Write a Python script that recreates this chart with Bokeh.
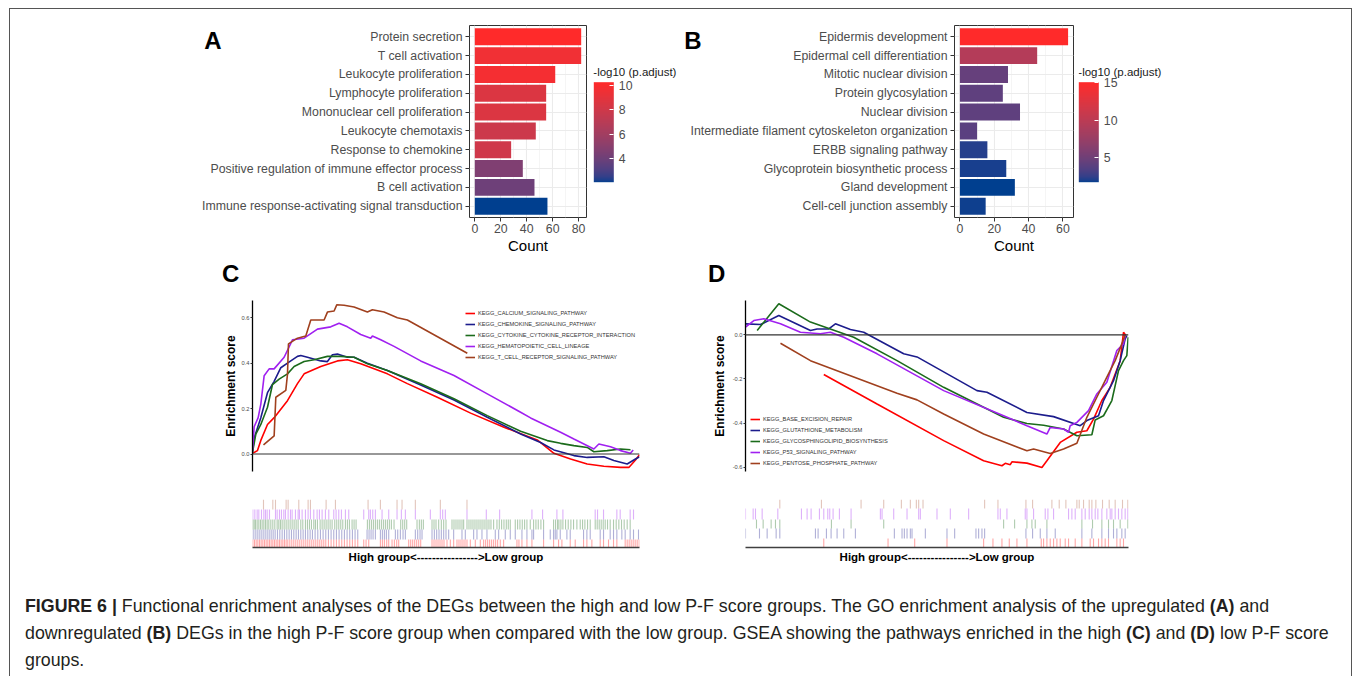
import numpy as np
from bokeh.plotting import figure
from bokeh.models import (Range1d, LinearColorMapper, Span, FixedTicker, Label,
                          PrintfTickFormatter, LinearAxis, Div, ColumnDataSource, ColorBar)
from bokeh.layouts import row, column
from bokeh.transform import transform
from bokeh.embed import file_html
from bokeh.resources import INLINE

FONT = "Liberation Sans"

# ---------------- data: panel A (GO, upregulated) ----------------
A_terms = ["Protein secretion", "T cell activation", "Leukocyte proliferation",
           "Lymphocyte proliferation", "Mononuclear cell proliferation", "Leukocyte chemotaxis",
           "Response to chemokine", "Positive regulation of immune effector process",
           "B cell activation", "Immune response-activating signal transduction"]
A_count = [82, 82, 62, 55, 55, 47, 28, 37, 46, 56]
A_mlog10 = [10.3, 9.6, 9.8, 8.6, 8.6, 7.9, 8.0, 4.6, 4.0, 2.0]
A_xticks = [0, 20, 40, 60, 80]
A_cbticks = [4, 6, 8, 10]

# ---------------- data: panel B (GO, downregulated) ----------------
B_terms = ["Epidermis development", "Epidermal cell differentiation", "Mitotic nuclear division",
           "Protein glycosylation", "Nuclear division",
           "Intermediate filament cytoskeleton organization", "ERBB signaling pathway",
           "Glycoprotein biosynthetic process", "Gland development", "Cell-cell junction assembly"]
B_count = [63, 45, 28, 25, 35, 10, 16, 27, 32, 15]
B_mlog10 = [15.1, 9.4, 4.4, 4.1, 4.1, 3.9, 2.1, 1.9, 1.65, 1.8]
B_xticks = [0, 20, 40, 60]
B_cbticks = [5, 10, 15]

# ---------------- data: panel C (GSEA, high group) ----------------
C_names = ["KEGG_CALCIUM_SIGNALING_PATHWAY", "KEGG_CHEMOKINE_SIGNALING_PATHWAY",
           "KEGG_CYTOKINE_CYTOKINE_RECEPTOR_INTERACTION", "KEGG_HEMATOPOIETIC_CELL_LINEAGE",
           "KEGG_T_CELL_RECEPTOR_SIGNALING_PATHWAY"]
C_nrank = 1162
C_yticks = [0.0, 0.2, 0.4, 0.6]
C_calcium_rank = [0, 15, 25, 45, 65, 105, 135, 155, 205, 255, 285, 325, 365, 405, 465, 555, 655, 755, 855, 905, 955, 1005, 1055, 1105, 1130, 1150, 1162]
C_calcium_es = [0.003, 0.015, 0.06, 0.13, 0.16, 0.235, 0.31, 0.353, 0.385, 0.41, 0.415, 0.397, 0.375, 0.353, 0.31, 0.25, 0.18, 0.118, 0.062, 0.003, -0.022, -0.044, -0.054, -0.059, -0.059, -0.026, -0.003]
C_chemokine_rank = [0, 5, 25, 45, 65, 85, 105, 135, 145, 165, 205, 225, 240, 255, 285, 305, 345, 405, 505, 605, 705, 805, 865, 905, 965, 1005, 1055, 1085, 1125, 1150, 1162]
C_chemokine_es = [0.007, 0.07, 0.16, 0.27, 0.32, 0.38, 0.40, 0.43, 0.434, 0.426, 0.41, 0.407, 0.437, 0.44, 0.426, 0.426, 0.40, 0.368, 0.304, 0.238, 0.162, 0.088, 0.051, 0.018, -0.007, -0.015, -0.012, -0.029, -0.044, -0.022, -0.012]
C_cytokine_rank = [0, 10, 25, 45, 60, 80, 105, 125, 155, 185, 225, 265, 305, 345, 405, 505, 605, 705, 805, 885, 925, 965, 1005, 1025, 1065, 1105, 1135]
C_cytokine_es = [0.007, 0.088, 0.13, 0.206, 0.306, 0.33, 0.353, 0.385, 0.407, 0.415, 0.43, 0.43, 0.426, 0.397, 0.368, 0.309, 0.243, 0.169, 0.1, 0.059, 0.047, 0.037, 0.029, 0.01, 0.015, 0.022, 0.019]
C_hemato_rank = [0, 5, 17, 25, 35, 50, 65, 95, 120, 155, 195, 235, 260, 285, 325, 355, 360, 385, 425, 505, 605, 705, 805, 835, 925, 965, 1025, 1040, 1075, 1105, 1135, 1143]
C_hemato_es = [0.015, 0.12, 0.16, 0.22, 0.345, 0.375, 0.375, 0.426, 0.503, 0.51, 0.55, 0.56, 0.576, 0.56, 0.526, 0.51, 0.52, 0.503, 0.474, 0.41, 0.346, 0.265, 0.184, 0.159, 0.096, 0.066, 0.022, 0.044, 0.032, 0.015, 0.003, 0.018]
C_tcell_rank = [33, 65, 70, 100, 105, 108, 135, 160, 175, 215, 225, 245, 253, 275, 305, 345, 360, 395, 435, 465, 645]
C_tcell_es = [0.04, 0.08, 0.25, 0.28, 0.35, 0.485, 0.51, 0.52, 0.59, 0.59, 0.625, 0.63, 0.657, 0.655, 0.647, 0.625, 0.635, 0.625, 0.6, 0.59, 0.444]

C_calcium_hits = [1, 6, 11, 16, 21, 26, 31, 36, 41, 46, 51, 56, 61, 66, 71, 76, 81, 86, 91, 96, 101, 106, 112, 118, 124, 130, 136, 142, 148, 154, 160, 166, 172, 178, 184, 190, 196, 202, 208, 214, 220, 228, 236, 244, 252, 260, 268, 276, 284, 292, 300, 308, 316, 334, 341, 349, 384, 390, 396, 403, 409, 419, 426, 433, 439, 469, 475, 481, 487, 493, 499, 505, 539, 545, 551, 557, 563, 569, 575, 584, 594, 604, 614, 620, 626, 632, 638, 644, 654, 669, 684, 694, 700, 706, 712, 718, 724, 730, 736, 744, 754, 794, 800, 809, 824, 839, 874, 904, 919, 929, 954, 969, 994, 1004, 1019, 1044, 1054, 1069, 1084, 1094, 1119, 1125, 1131, 1137, 1143, 1149, 1155, 1161]
C_chemokine_hits = [2, 8, 14, 20, 26, 32, 38, 44, 50, 56, 62, 68, 75, 82, 89, 96, 103, 110, 117, 124, 131, 138, 145, 152, 159, 166, 173, 180, 188, 196, 204, 212, 220, 228, 236, 244, 252, 260, 268, 276, 284, 292, 300, 308, 316, 344, 350, 356, 362, 369, 384, 390, 396, 402, 409, 429, 436, 444, 452, 459, 489, 496, 503, 509, 539, 546, 553, 560, 567, 574, 581, 589, 604, 629, 639, 664, 674, 689, 704, 729, 739, 759, 774, 789, 809, 824, 839, 844, 874, 894, 904, 909, 914, 924, 944, 954, 994, 1004, 1014, 1044, 1054, 1074, 1084, 1094, 1109, 1119, 1134, 1144, 1159]
C_cytokine_hits = [1, 5, 9, 14, 19, 24, 29, 34, 39, 44, 49, 55, 61, 67, 74, 79, 84, 89, 95, 101, 107, 113, 119, 125, 131, 137, 145, 151, 159, 165, 171, 177, 184, 189, 195, 203, 209, 215, 221, 227, 233, 239, 247, 253, 259, 265, 271, 279, 285, 291, 299, 305, 311, 345, 351, 357, 363, 369, 375, 381, 387, 393, 399, 405, 411, 417, 425, 445, 451, 457, 463, 494, 501, 507, 513, 539, 545, 551, 559, 567, 574, 581, 599, 605, 611, 617, 623, 629, 634, 644, 650, 656, 662, 668, 674, 680, 686, 692, 698, 704, 710, 716, 724, 734, 741, 748, 755, 762, 768, 774, 789, 796, 803, 810, 817, 824, 834, 844, 851, 858, 866, 874, 904, 910, 916, 920, 926, 932, 940, 948, 956, 964, 974, 984, 991, 998, 1006, 1014, 1029, 1035, 1041, 1047, 1053, 1059, 1066, 1074, 1084, 1092, 1100, 1108, 1116, 1125, 1134]
C_hemato_hits = [1, 7, 14, 19, 27, 34, 39, 44, 51, 69, 74, 81, 87, 94, 99, 107, 114, 119, 129, 137, 141, 149, 159, 167, 174, 184, 194, 201, 209, 219, 229, 244, 251, 259, 267, 279, 289, 334, 349, 354, 361, 369, 389, 409, 434, 447, 459, 489, 534, 564, 571, 579, 644, 702, 742, 839, 871, 914, 932, 1029, 1036, 1054, 1094, 1104, 1134, 1144]
C_tcell_hits = [33, 61, 69, 101, 107, 139, 167, 174, 221, 249, 347, 384, 434, 449, 489, 564, 644]

# ---------------- data: panel D (GSEA, low group) ----------------
D_names = ["KEGG_BASE_EXCISION_REPAIR", "KEGG_GLUTATHIONE_METABOLISM",
           "KEGG_GLYCOSPHINGOLIPID_BIOSYNTHESIS", "KEGG_P53_SIGNALING_PATHWAY",
           "KEGG_PENTOSE_PHOSPHATE_PATHWAY"]
D_nrank = 1150
D_yticks = [0.0, -0.2, -0.4, -0.6]
D_ber_rank = [235, 395, 595, 715, 770, 780, 795, 800, 845, 890, 905, 945, 995, 1025, 1045, 1070, 1095, 1125, 1135, 1142]
D_ber_es = [-0.18, -0.314, -0.48, -0.571, -0.594, -0.583, -0.589, -0.576, -0.582, -0.602, -0.571, -0.488, -0.442, -0.435, -0.382, -0.298, -0.238, -0.117, 0.012, -0.003]
D_glut_rank = [0, 45, 100, 195, 215, 250, 270, 315, 355, 475, 515, 695, 725, 845, 925, 1005, 1025, 1060, 1075, 1105, 1125, 1140, 1145]
D_glut_es = [0.05, 0.047, 0.088, 0.02, 0.027, 0.027, 0.05, 0.024, 0.012, -0.086, -0.1, -0.253, -0.26, -0.352, -0.371, -0.412, -0.389, -0.367, -0.298, -0.208, -0.117, -0.018, -0.003]
D_glyco_rank = [35, 100, 195, 325, 455, 595, 775, 845, 895, 955, 995, 1040, 1050, 1075, 1100, 1120, 1135, 1145, 1149]
D_glyco_es = [0.02, 0.141, 0.058, -0.011, -0.117, -0.238, -0.374, -0.402, -0.41, -0.427, -0.458, -0.453, -0.386, -0.367, -0.298, -0.162, -0.117, -0.094, -0.011]
D_p53_rank = [0, 25, 55, 105, 165, 225, 255, 295, 395, 595, 775, 845, 905, 915, 955, 970, 975, 995, 1030, 1055, 1085, 1115, 1135, 1140]
D_p53_es = [0.035, 0.065, 0.073, 0.05, 0.012, 0.005, 0.012, -0.011, -0.086, -0.253, -0.367, -0.412, -0.45, -0.42, -0.427, -0.442, -0.412, -0.397, -0.344, -0.268, -0.215, -0.071, -0.041, -0.003]
D_ppp_rank = [105, 195, 315, 455, 515, 595, 715, 845, 865, 915, 955, 995, 1025, 1055, 1085, 1110, 1130, 1140]
D_ppp_es = [-0.038, -0.117, -0.185, -0.265, -0.295, -0.359, -0.45, -0.526, -0.518, -0.538, -0.518, -0.492, -0.374, -0.283, -0.192, -0.117, -0.041, 0.0]

D_ber_hits = [235, 428, 508, 605, 715, 743, 770, 792, 815, 845, 888, 895, 905, 915, 925, 935, 945, 960, 970, 990, 1010, 1035, 1045, 1060, 1070, 1080, 1090, 1115, 1125, 1135]
D_glut_hits = [0, 42, 65, 92, 103, 210, 218, 243, 257, 275, 295, 330, 447, 470, 477, 485, 495, 500, 540, 605, 628, 692, 700, 710, 718, 842, 862, 885, 905, 930, 1010, 1040, 1070, 1090, 1105, 1115, 1130, 1140]
D_glyco_hits = [33, 53, 77, 90, 103, 258, 317, 415, 775, 808, 845, 860, 870, 905, 1010, 1042, 1070, 1090, 1105, 1125, 1148]
D_p53_hits = [0, 23, 30, 50, 97, 168, 185, 197, 222, 235, 247, 253, 263, 282, 317, 405, 410, 445, 485, 520, 525, 575, 615, 670, 758, 765, 785, 840, 845, 865, 900, 908, 925, 970, 980, 990, 1010, 1020, 1032, 1040, 1050, 1058, 1070, 1085, 1095, 1100, 1110, 1120, 1130, 1140, 1148]
D_ppp_hits = [103, 228, 347, 415, 468, 495, 513, 520, 533, 718, 758, 842, 862, 920, 942, 962, 995, 1002, 1015, 1032, 1040, 1052, 1072, 1092, 1110, 1132, 1148]

SET_COLORS = ["#FF0000", "#1C1C8C", "#1B6B1B", "#A020F0", "#A0401E"]
RUG_ALPHA = [0.35, 0.35, 0.35, 0.35, 0.3]

CAPTION_LINES = [
    "<b>FIGURE 6 |</b> Functional enrichment analyses of the DEGs between the high and low P-F score groups. "
    "The GO enrichment analysis of the upregulated <b>(A)</b> and",
    "downregulated <b>(B)</b> DEGs in the high P-F score group when compared with the low group. "
    "GSEA showing the pathways enriched in the high <b>(C)</b> and <b>(D)</b> low P-F score",
    "groups.",
]

# ---------------- colour helpers (Lab interpolation like ggplot) ----------------
_M = np.array([[0.4124564, 0.3575761, 0.1804375],
               [0.2126729, 0.7151522, 0.0721750],
               [0.0193339, 0.1191920, 0.9503041]])
_W = _M @ np.ones(3)


def _hex2rgb(h):
    h = h.lstrip('#')
    return np.array([int(h[i:i + 2], 16) for i in (0, 2, 4)]) / 255.0


def _rgb2lab(rgb):
    lin = np.where(rgb <= 0.04045, rgb / 12.92, ((rgb + 0.055) / 1.055) ** 2.4)
    xyz = (_M @ lin) / _W
    d = 6 / 29
    f = np.where(xyz > d ** 3, np.cbrt(xyz), xyz / (3 * d * d) + 4 / 29)
    return np.array([116 * f[1] - 16, 500 * (f[0] - f[1]), 200 * (f[1] - f[2])])


def _lab2hex(lab):
    L, a, b = lab
    fy = (L + 16) / 116
    f = np.array([fy + a / 500, fy, fy - b / 200])
    d = 6 / 29
    xyz = np.where(f > d, f ** 3, 3 * d * d * (f - 4 / 29)) * _W
    lin = np.clip(np.linalg.solve(_M, xyz), 0, None)
    rgb = np.where(lin <= 0.0031308, 12.92 * lin, 1.055 * lin ** (1 / 2.4) - 0.055)
    rgb = np.clip(rgb, 0, 1)
    return '#%02x%02x%02x' % tuple(int(round(v * 255)) for v in rgb)


def lab_palette(lo_hex, hi_hex, n=256):
    a = _rgb2lab(_hex2rgb(lo_hex))
    b = _rgb2lab(_hex2rgb(hi_hex))
    return [_lab2hex(a + (b - a) * t) for t in np.linspace(0, 1, n)]


PAL = lab_palette("#003F8F", "#FF2A2A")

# ---------------- layout constants (page pixels) ----------------
ROW1_TOP = 9
R1_H, R1_TOP, R1_FH = 249, 16, 192
R1_BOT = R1_H - R1_TOP - R1_FH


def py2y(py, f_top, f_h, y0, y1):
    return y1 - (py - f_top) / f_h * (y1 - y0)


# ---------------- bar panels ----------------
def bar_panel(terms, counts, mlog, xticks, left_b, frame_w, right_b, letter, letter_standoff):
    pad = max(counts) * 0.05
    n = len(terms)
    ypos = list(range(n, 0, -1))          # first term on top, as in the figure
    src = ColumnDataSource(dict(term=terms, y=ypos, count=counts, mlog=mlog))
    mapper = LinearColorMapper(palette=PAL, low=min(mlog), high=max(mlog))
    f_bottom = ROW1_TOP + R1_TOP + R1_FH
    p = figure(width=left_b + frame_w + right_b, height=R1_H,
               y_range=Range1d(0.4, n + 0.6),
               x_range=Range1d(-pad, max(counts) + pad), output_backend="svg", toolbar_location=None,
               min_border_left=left_b, min_border_right=right_b, min_border_top=R1_TOP,
               min_border_bottom=R1_BOT, background_fill_color="white", border_fill_color="white")
    p.extra_y_ranges = {"letter": Range1d(0, R1_FH / (f_bottom - 39.5))}
    p.hbar(y='y', right='count', left=0, height=0.9, source=src,
           fill_color=transform('mlog', mapper), line_color=None)
    minors = [t + (xticks[1] - xticks[0]) / 2 for t in xticks[:-1]]
    p.xaxis.ticker = FixedTicker(ticks=xticks, minor_ticks=minors)
    p.yaxis.ticker = FixedTicker(ticks=ypos, minor_ticks=[])
    p.yaxis.major_label_overrides = {y: t for y, t in zip(ypos, terms)}
    for ax in (p.xaxis[0], p.yaxis[0]):
        ax.axis_line_color = None
        ax.major_tick_line_color = "#333333"
        ax.major_tick_out = 4
        ax.major_tick_in = 0
        ax.minor_tick_out = 0
        ax.minor_tick_in = 0
        ax.major_label_text_font = FONT
        ax.major_label_text_font_size = "12.3px"
        ax.major_label_text_color = "#4D4D4D"
    p.xaxis.major_label_standoff = 2
    p.yaxis.major_label_standoff = 3
    p.xaxis.axis_label = "Count"
    p.xaxis.axis_label_text_font = FONT
    p.xaxis.axis_label_text_font_size = "15px"
    p.xaxis.axis_label_text_font_style = "normal"
    p.xaxis.axis_label_text_color = "black"
    p.xaxis.axis_label_standoff = 1
    p.xgrid.grid_line_color = "#EBEBEB"
    p.xgrid.grid_line_width = 1.1
    p.xgrid.minor_grid_line_color = "#F2F2F2"
    p.xgrid.minor_grid_line_width = 0.8
    p.ygrid.grid_line_color = "#EBEBEB"
    p.ygrid.grid_line_width = 1.1
    p.outline_line_color = "#333333"
    p.outline_line_width = 1
    # panel letter, drawn as the single label of an outer left axis
    lax = LinearAxis(y_range_name="letter", ticker=FixedTicker(ticks=[1], minor_ticks=[]),
                     major_label_overrides={1: letter})
    lax.axis_line_color = None
    lax.major_tick_line_color = None
    lax.minor_tick_line_color = None
    lax.major_tick_out = 0
    lax.major_tick_in = 0
    lax.minor_tick_out = 0
    lax.minor_tick_in = 0
    lax.major_label_standoff = letter_standoff
    lax.major_label_text_font = FONT
    lax.major_label_text_font_size = "24px"
    lax.major_label_text_font_style = "bold"
    lax.major_label_text_color = "black"
    p.add_layout(lax, 'left')
    return p


def cbar_panel(mlog, ticks, width, bar_x):
    lo, hi = min(mlog), max(mlog)
    p = figure(width=width, height=R1_H, x_range=Range1d(0, width), y_range=Range1d(0, R1_FH),
               min_border_left=0, min_border_right=0, min_border_top=R1_TOP, min_border_bottom=R1_BOT,
               x_axis_location=None, y_axis_location=None, toolbar_location=None,
               output_backend="svg", outline_line_color=None, border_fill_color="white")
    p.grid.visible = False
    f_bottom = ROW1_TOP + R1_TOP + R1_FH
    cb = ColorBar(color_mapper=LinearColorMapper(palette=PAL, low=lo, high=hi),
                  ticker=FixedTicker(ticks=ticks), width=20, height=100,
                  location=(bar_x, f_bottom - 181.7), padding=0, margin=0,
                  major_label_text_font=FONT, major_label_text_font_size="12.3px",
                  major_label_text_color="#4D4D4D", label_standoff=5,
                  major_tick_line_color="white", major_tick_in=4, major_tick_out=0,
                  minor_tick_line_color=None, bar_line_color=None, border_line_color=None,
                  background_fill_color=None)
    p.add_layout(cb, 'center')
    p.add_layout(Label(x=bar_x - 0.5, y=f_bottom - 71.5, text="-log10 (p.adjust)",
                       text_font=FONT, text_font_size="11.5px", text_color="#1A1A1A",
                       text_baseline="middle", text_align="left"))
    return p


# ---------------- GSEA panels ----------------
ES_TOP_B, ES_FH, ES_BOT_B = 12, 171, 14
RUG_TOP_B, RUG_FH, RUG_BOT_B = 14, 48, 25
ES_FRAME_TOP = 300
RUG_FRAME_TOP = 499


def gsea_panel(curves, hits, names, nrank, yr, yticks, left_b, frame_w, right_b, legend_loc, bands,
               ylab_standoff):
    xr = Range1d(0, nrank)
    es = figure(width=left_b + frame_w + right_b, height=ES_TOP_B + ES_FH + ES_BOT_B, x_range=xr,
                y_range=Range1d(*yr), min_border_left=left_b, min_border_right=right_b,
                min_border_top=ES_TOP_B, min_border_bottom=ES_BOT_B, x_axis_location=None,
                toolbar_location=None, output_backend="svg", outline_line_color=None,
                border_fill_color="white")
    es.grid.visible = False
    es.add_layout(Span(location=0, dimension='width', line_color="#333333", line_width=1.2))
    for i, (rk, sc) in enumerate(curves):
        es.line(rk, sc, line_color=SET_COLORS[i], line_width=1.6, legend_label=names[i])
    lg = es.legend[0]
    lg.location = legend_loc
    lg.margin = 0
    lg.padding = 0
    lg.spacing = 1
    lg.glyph_width = 10
    lg.glyph_height = 10
    lg.label_height = 10
    lg.label_standoff = 3
    lg.label_text_font = FONT
    lg.label_text_font_size = "5.7px"
    lg.label_text_color = "#333333"
    lg.background_fill_alpha = 0
    lg.border_line_color = None
    ya = es.yaxis[0]
    ya.ticker = FixedTicker(ticks=yticks)
    ya.formatter = PrintfTickFormatter(format="%.1f")
    ya.axis_line_color = "black"
    ya.axis_line_width = 1.3
    ya.major_tick_line_color = "#333333"
    ya.major_tick_out = 2
    ya.major_tick_in = 0
    ya.minor_tick_line_color = None
    ya.major_label_standoff = 1
    ya.major_label_text_font = FONT
    ya.major_label_text_font_size = "5.7px"
    ya.major_label_text_color = "#4D4D4D"
    ya.axis_label = "Enrichment score"
    ya.axis_label_text_font = FONT
    ya.axis_label_text_font_size = "12px"
    ya.axis_label_text_font_style = "bold"
    ya.axis_label_text_color = "black"
    ya.axis_label_standoff = ylab_standoff

    rug = figure(width=left_b + frame_w + right_b, height=RUG_TOP_B + RUG_FH + RUG_BOT_B, x_range=xr,
                 y_range=Range1d(0, RUG_FH), min_border_left=left_b, min_border_right=right_b,
                 min_border_top=RUG_TOP_B, min_border_bottom=RUG_BOT_B, y_axis_location=None,
                 toolbar_location=None, output_backend="svg", outline_line_color=None,
                 border_fill_color="white")
    rug.grid.visible = False
    for i in range(len(hits)):
        btop, bbot = bands[i]
        yt = py2y(btop, RUG_FRAME_TOP, RUG_FH, 0, RUG_FH)
        yb = py2y(bbot, RUG_FRAME_TOP, RUG_FH, 0, RUG_FH)
        h = hits[i]
        rug.segment(x0=h, x1=h, y0=[yb] * len(h), y1=[yt] * len(h), line_color=SET_COLORS[i],
                    line_alpha=RUG_ALPHA[i], line_width=1.1)
    xa = rug.xaxis[0]
    xa.ticker = FixedTicker(ticks=[])
    xa.major_tick_out = 0
    xa.major_tick_in = 0
    xa.minor_tick_out = 0
    xa.minor_tick_in = 0
    xa.axis_line_color = "#404040"
    xa.axis_line_width = 1.6
    xa.axis_label = "High group<---------------->Low group"
    xa.axis_label_text_font = FONT
    xa.axis_label_text_font_size = "11.5px"
    xa.axis_label_text_font_style = "bold"
    xa.axis_label_text_color = "black"
    xa.axis_label_standoff = 3
    return column(es, rug)


figA = bar_panel(A_terms, A_count, A_mlog10, A_xticks, 459, 117, 4, "A", -22)
cbA = cbar_panel(A_mlog10, A_cbticks, 90, 3.3)
figB = bar_panel(B_terms, B_count, B_mlog10, B_xticks, 274, 119, 5, "B", -14)
cbB = cbar_panel(B_mlog10, B_cbticks, 122, 0.3)

C_curves = [(C_calcium_rank, C_calcium_es), (C_chemokine_rank, C_chemokine_es),
            (C_cytokine_rank, C_cytokine_es), (C_hemato_rank, C_hemato_es), (C_tcell_rank, C_tcell_es)]
C_hits = [C_calcium_hits, C_chemokine_hits, C_cytokine_hits, C_hemato_hits, C_tcell_hits]
D_curves = [(D_ber_rank, D_ber_es), (D_glut_rank, D_glut_es), (D_glyco_rank, D_glyco_es),
            (D_p53_rank, D_p53_es), (D_ppp_rank, D_ppp_es)]
D_hits = [D_ber_hits, D_glut_hits, D_glyco_hits, D_p53_hits, D_ppp_hits]

C_bands = [(539, 547), (529, 539), (519, 529), (509, 519), (499, 509)]
D_bands = [(538, 547), (528, 538), (519, 528), (508, 519), (499, 508)]

ES_BOTTOM = ES_FRAME_TOP + ES_FH
panelC = gsea_panel(C_curves, C_hits, C_names, C_nrank, (-0.077, 0.676), C_yticks,
                    242, 387, 51, (213, ES_BOTTOM - 361.8), C_bands, 1)
panelD = gsea_panel(D_curves, D_hits, D_names, D_nrank, (-0.62, 0.156), D_yticks,
                    55, 383, 20, (5, ES_BOTTOM - 467.5), D_bands, 3)

letters_cd = Div(text=('<div style="position:relative;width:1341px;height:30px;'
                       'font-family:\'Liberation Sans\',Arial,sans-serif;font-size:24px;font-weight:bold;'
                       'line-height:24px;color:black;">'
                       '<span style="position:absolute;left:212px;top:4px;">C</span>'
                       '<span style="position:absolute;left:698px;top:4px;">D</span></div>'),
                 width=1341, height=30, margin=0)

cap = Div(text=('<div style="font-family:\'Liberation Sans\',Arial,sans-serif;font-size:17.8px;'
                'line-height:27px;color:#231f20;padding:21px 0 0 15px;white-space:nowrap;">'
                + "<br>".join(CAPTION_LINES) + '</div>'),
          width=1341, height=104, margin=0)

root = column(row(figA, cbA, figB, cbB), letters_cd, row(panelC, panelD), cap,
              margin=(8, 0, 0, 9),
              styles={"border-top": "1px solid #555555", "border-left": "1px solid #555555",
                      "border-right": "1px solid #555555"})

open("out.html", "w").write(file_html(root, INLINE))
